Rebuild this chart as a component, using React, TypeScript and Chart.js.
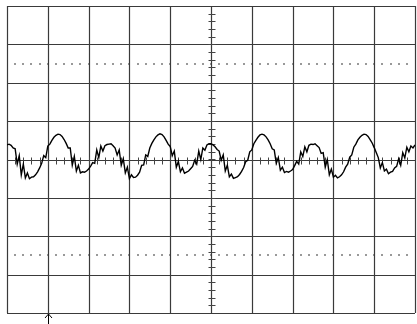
import React, { useEffect, useRef } from "react";
import { Chart, registerables } from "chart.js";

Chart.register(...registerables);

// Screen geometry in divisions
const X_DIVS = 10;
const Y_DIVS = 8;
const SAMPLE_STEP_DIV = 0.05; // horizontal spacing between samples (divisions)
const DOTTED_LEVELS = [2.5, -2.5];
const TRIGGER_POS_DIV = 1;

// Captured trace, vertical position in divisions (one sample per 0.05 div)
const TRACE_DIV = [
  0.38, 0.40, 0.37, 0.30, 0.28, -0.12, 0.10, -0.40, -0.12, -0.48,
  -0.35, -0.50, -0.46, -0.45, -0.40, -0.32, -0.22, -0.10, 0.10, 0.05,
  0.35, 0.40, 0.50, 0.58, 0.63, 0.66, 0.65, 0.60, 0.52, 0.42,
  0.30, 0.30, -0.15, 0.08, -0.30, -0.15, -0.35, -0.32, -0.33, -0.30,
  -0.25, -0.17, -0.08, -0.10, 0.25, 0.05, 0.35, 0.22, 0.36, 0.39,

  0.40, 0.41, 0.36, 0.30, 0.12, 0.25, -0.15, 0.02, -0.35, -0.20,
  -0.50, -0.40, -0.47, -0.46, -0.41, -0.33, -0.15, -0.14, 0.12, 0.08,
  0.30, 0.42, 0.51, 0.59, 0.64, 0.67, 0.65, 0.59, 0.50, 0.40,
  0.34, 0.10, 0.22, -0.20, -0.05, -0.32, -0.22, -0.36, -0.33, -0.30,
  -0.24, -0.18, -0.02, -0.12, 0.22, 0.00, 0.30, 0.24, 0.38, 0.41,

  0.41, 0.38, 0.33, 0.26, 0.22, -0.02, 0.12, -0.30, -0.15, -0.45,
  -0.38, -0.49, -0.47, -0.45, -0.39, -0.31, -0.21, -0.06, -0.02, 0.20,
  0.25, 0.41, 0.50, 0.58, 0.64, 0.66, 0.64, 0.59, 0.51, 0.41,
  0.28, 0.25, -0.10, 0.05, -0.28, -0.20, -0.34, -0.31, -0.33, -0.30,
  -0.26, -0.16, -0.05, -0.12, 0.20, 0.08, 0.33, 0.20, 0.37, 0.40,

  0.39, 0.41, 0.36, 0.31, 0.16, 0.18, -0.20, 0.00, -0.40, -0.25,
  -0.46, -0.41, -0.48, -0.45, -0.40, -0.32, -0.20, -0.12, 0.06, 0.12,
  0.32, 0.40, 0.51, 0.58, 0.63, 0.66, 0.65, 0.60, 0.52, 0.43,
  0.31, 0.18, 0.05, -0.22, -0.08, -0.30, -0.25, -0.37, -0.33, -0.31,
  -0.22, -0.18, 0.02, -0.15, 0.18, 0.04, 0.32, 0.20, 0.35, 0.30,

  0.38,
];

const scopeGrid = {
  id: "scopeGrid",
  beforeDatasetsDraw(chart: any) {
    const { ctx, scales } = chart;
    const x = scales.x;
    const y = scales.y;
    const half = Y_DIVS / 2;
    ctx.save();
    // dotted reference levels
    ctx.fillStyle = "#999";
    for (const lvl of DOTTED_LEVELS) {
      const py = Math.round(y.getPixelForValue(lvl));
      for (let v = 0.2; v < X_DIVS - 0.01; v += 0.2) {
        const px = Math.round(x.getPixelForValue(v));
        ctx.fillRect(px - 1, py - 1, 2, 2);
      }
    }
    // grid
    ctx.strokeStyle = "#3a3a3a";
    ctx.lineWidth = 1.2;
    ctx.beginPath();
    for (let i = 0; i <= X_DIVS; i++) {
      const px = Math.round(x.getPixelForValue(i)) + 0.5;
      ctx.moveTo(px, y.getPixelForValue(half));
      ctx.lineTo(px, y.getPixelForValue(-half));
    }
    for (let j = -half; j <= half; j++) {
      const py = Math.round(y.getPixelForValue(j)) + 0.5;
      ctx.moveTo(x.getPixelForValue(0), py);
      ctx.lineTo(x.getPixelForValue(X_DIVS), py);
    }
    ctx.stroke();
    // center axis minor ticks
    ctx.strokeStyle = "#444";
    ctx.lineWidth = 1;
    ctx.beginPath();
    const cy = Math.round(y.getPixelForValue(0)) + 0.5;
    const cx = Math.round(x.getPixelForValue(X_DIVS / 2)) + 0.5;
    for (let v = 0.2; v < X_DIVS - 0.01; v += 0.2) {
      const px = Math.round(x.getPixelForValue(v)) + 0.5;
      ctx.moveTo(px, cy - 3);
      ctx.lineTo(px, cy + 4);
    }
    for (let v = -half + 0.2; v < half - 0.01; v += 0.2) {
      const py = Math.round(y.getPixelForValue(v)) + 0.5;
      ctx.moveTo(cx - 3, py);
      ctx.lineTo(cx + 4, py);
    }
    ctx.stroke();
    ctx.restore();
  },
  afterDraw(chart: any) {
    const { ctx, scales, chartArea } = chart;
    const px = Math.round(scales.x.getPixelForValue(TRIGGER_POS_DIV)) + 0.5;
    const top = chartArea.bottom + 1;
    ctx.save();
    ctx.strokeStyle = "#000";
    ctx.lineWidth = 1;
    ctx.beginPath();
    ctx.moveTo(px, top);
    ctx.lineTo(px, chart.height);
    ctx.moveTo(px - 3.5, top + 4);
    ctx.lineTo(px, top);
    ctx.lineTo(px + 3.5, top + 4);
    ctx.stroke();
    ctx.restore();
  },
};

export default function App() {
  const ref = useRef<HTMLCanvasElement | null>(null);
  useEffect(() => {
    if (!ref.current) return;
    const points = TRACE_DIV.map((v, i) => ({ x: i * SAMPLE_STEP_DIV, y: v }));
    const chart = new Chart(ref.current, {
      type: "line",
      data: {
        datasets: [
          {
            data: points,
            borderColor: "#000",
            borderWidth: 1.4,
            pointRadius: 0,
            tension: 0,
            fill: false,
          },
        ],
      },
      options: {
        animation: false,
        responsive: false,
        maintainAspectRatio: false,
        layout: { padding: { left: 7, right: 2, top: 6, bottom: 11 } },
        plugins: { legend: { display: false }, tooltip: { enabled: false } },
        scales: {
          x: { type: "linear", min: 0, max: X_DIVS, display: false },
          y: { type: "linear", min: -Y_DIVS / 2, max: Y_DIVS / 2, display: false },
        },
      },
      plugins: [scopeGrid],
    });
    return () => chart.destroy();
  }, []);
  return (
    <div style={{ position: "absolute", left: 0, top: 0, width: 417, height: 324, background: "#fff" }}>
      <canvas ref={ref} width={417} height={324} />
    </div>
  );
}
